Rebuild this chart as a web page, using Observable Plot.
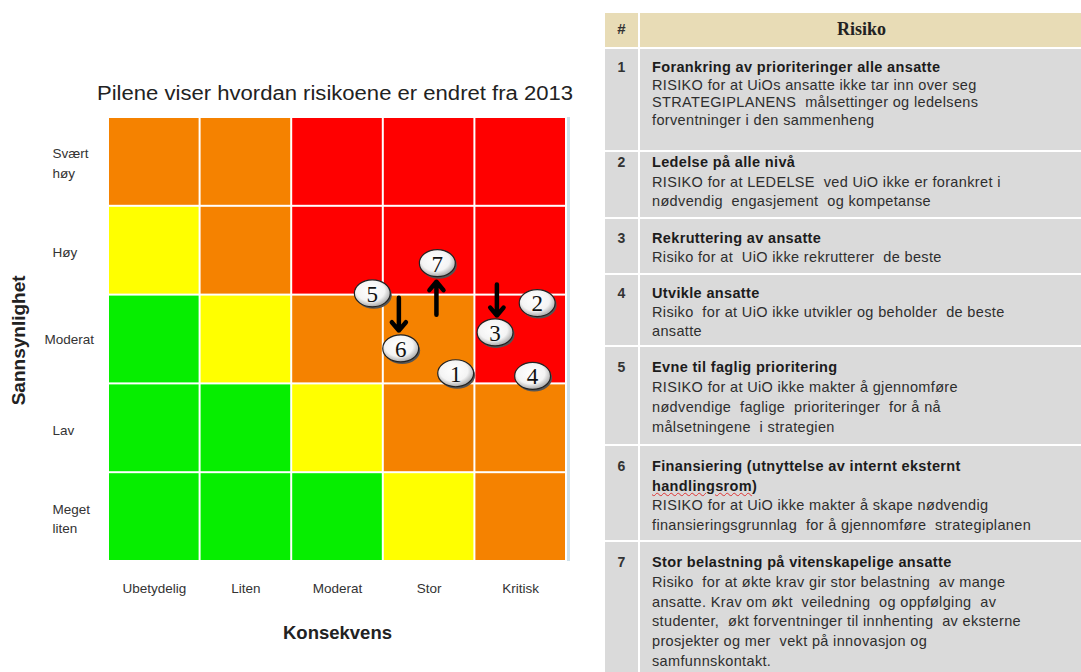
<!DOCTYPE html>
<html>
<head>
<meta charset="utf-8">
<script src="https://cdn.jsdelivr.net/npm/d3@7"></script>
<script src="https://cdn.jsdelivr.net/npm/@observablehq/plot@0.6"></script>
<style>
  html, body { margin: 0; padding: 0; background: #fff; }
  #page { position: relative; width: 1081px; height: 672px; overflow: hidden; font-family: "Liberation Sans", Arial, sans-serif; }
  #chart { position: absolute; left: 0; top: 0; }
  #title { position: absolute; left: 97px; top: 82px; font-size: 20px; color: #222; white-space: nowrap; transform-origin: 0 0; }
  #table { position: absolute; left: 605px; top: 13px; width: 476px; }
  .row { position: absolute; left: 0; width: 476px; background: #dadada; }
  .num { position: absolute; left: 0; width: 35px; top: 0; bottom: 0; border-right: 2px solid #fff; text-align: center; font-weight: bold; font-size: 14px; color: #333; box-sizing: border-box; }
  .txt { position: absolute; left: 47px; right: 0; top: 0; font-size: 14.5px; letter-spacing: 0.35px; color: #2e2e2e; white-space: nowrap; }
  .txt b { color: #1c1c1c; }
  .hdr { background: #e8dcb6; }
  .hdr .risk { position: absolute; left: 37px; right: 0; text-align: center; font-family: "Liberation Serif", serif; font-weight: bold; font-size: 18px; color: #222; top: 6px; }
  .wavy { text-decoration: underline wavy #d33; text-decoration-thickness: 1px; }
</style>
</head>
<body>
<div id="page">
  <div id="chart"></div>
  <div id="title"></div>
  <div id="table"></div>
</div>
<script>
// ---------- data ----------
const consequences = ["Ubetydelig", "Liten", "Moderat", "Stor", "Kritisk"];
const likelihoods = ["Meget\nliten", "Lav", "Moderat", "Høy", "Svært\nhøy"]; // bottom to top
const cellLevels = [
  ["G", "G", "G", "Y", "O"],  // Meget liten
  ["G", "G", "Y", "O", "O"],  // Lav
  ["G", "Y", "O", "O", "R"],  // Moderat
  ["Y", "O", "R", "R", "R"],  // Høy
  ["O", "O", "R", "R", "R"]   // Svært høy
];
const riskIds = [1, 2, 3, 4, 5, 6, 7];
const riskX = [3.79, 4.68, 4.22, 4.63, 2.88, 3.19, 3.59];
const riskY = [2.12, 2.91, 2.58, 2.09, 3.02, 2.40, 3.36];
const arrowX = [3.17, 3.58, 4.24];
const arrowFrom = [2.97, 2.78, 3.12];
const arrowTo = [2.60, 3.15, 2.77];
const titleText = "Pilene viser hvordan risikoene er endret fra 2013";
const xTitle = "Konsekvens";
const yTitle = "Sannsynlighet";
const tableHeader = ["#", "Risiko"];
const riskTitles = [
  " Forankring av prioriteringer alle ansatte",
  "Ledelse på alle nivå",
  "Rekruttering av ansatte",
  "Utvikle ansatte",
  "Evne til faglig prioritering",
  "Finansiering (utnyttelse av internt eksternt\n<u>handlingsrom</u>)",
  "Stor belastning på vitenskapelige ansatte"
];
const riskTexts = [
  "RISIKO for at UiOs ansatte ikke tar inn over seg\nSTRATEGIPLANENS  målsettinger og ledelsens\nforventninger i den sammenheng",
  "RISIKO for at LEDELSE  ved UiO ikke er forankret i\nnødvendig  engasjement  og kompetanse",
  "Risiko for at  UiO ikke rekrutterer  de beste",
  "Risiko  for at UiO ikke utvikler og beholder  de beste\nansatte",
  "RISIKO for at UiO ikke makter å gjennomføre\nnødvendige  faglige  prioriteringer  for å nå\nmålsetningene  i strategien",
  "RISIKO for at UiO ikke makter å skape nødvendig\nfinansieringsgrunnlag  for å gjennomføre  strategiplanen",
  "Risiko  for at økte krav gir stor belastning  av mange\nansatte. Krav om økt  veiledning  og oppfølging  av\nstudenter,  økt forventninger til innhenting  av eksterne\nprosjekter og mer  vekt på innovasjon og\nsamfunnskontakt."
];

// ---------- layout (not data) ----------
const rowLayout = [ // [top, height, padTop, lineHeight]
  [34, 101, 10, 17.5],
  [137, 65, 1, 19.5],
  [204, 54, 10, 19],
  [260, 70, 9, 19],
  [332, 97, 10, 20],
  [431, 94, 11, 19.5],
  [527, 145, 11, 19.8]
];

// ---------- chart ----------
const cells = [];
cellLevels.forEach((row, r) => row.forEach((lvl, c) => cells.push({col: c, row: r, level: lvl})));
const risks = riskIds.map((id, i) => ({id, x: riskX[i], y: riskY[i]}));
const arrows = arrowX.map((x, i) => ({x, y1: arrowFrom[i], y2: arrowTo[i]}));

const k = 0.5523;
const ellipse = {
  draw(ctx, size) {
    const r = Math.sqrt(size / Math.PI);
    const rx = r * 1.33, ry = r;
    ctx.moveTo(rx, 0);
    ctx.bezierCurveTo(rx, k * ry, k * rx, ry, 0, ry);
    ctx.bezierCurveTo(-k * rx, ry, -rx, k * ry, -rx, 0);
    ctx.bezierCurveTo(-rx, -k * ry, -k * rx, -ry, 0, -ry);
    ctx.bezierCurveTo(k * rx, -ry, rx, -k * ry, rx, 0);
    ctx.closePath();
  }
};

const defs = () => {
  const d = d3.create("svg:defs");
  const g = d.append("radialGradient").attr("id", "ellGrad").attr("cx", "45%").attr("cy", "40%").attr("r", "60%");
  g.append("stop").attr("offset", "0%").attr("stop-color", "#ffffff");
  g.append("stop").attr("offset", "65%").attr("stop-color", "#f4f4f4");
  g.append("stop").attr("offset", "100%").attr("stop-color", "#a9a9a9");
  return d.node();
};

const chart = Plot.plot({
  width: 600,
  height: 672,
  marginLeft: 108,
  marginRight: 34,
  marginTop: 117,
  marginBottom: 111,
  x: {domain: [0, 5], axis: null},
  y: {domain: [0, 5], axis: null},
  color: {domain: ["G", "Y", "O", "R"], range: ["#06ee00", "#ffff00", "#f58200", "#ff0000"]},
  style: {fontFamily: "'Liberation Sans', Arial, sans-serif", background: "white", overflow: "visible"},
  marks: [
    defs,
    Plot.ruleX([5], {y1: 0, y2: 5, stroke: "#cfe1ea", strokeWidth: 3, dx: 2}),
    Plot.rect(cells, {x1: d => d.col, x2: d => d.col + 1, y1: d => d.row, y2: d => d.row + 1, fill: "level", inset: 1}),
    Plot.text(consequences, {x: (d, i) => i + 0.5, y: 0, dy: 27, fontSize: 13.5, fill: "#333"}),
    Plot.text(likelihoods, {x: 0, y: (d, i) => i + 0.5, filter: (d, i) => i !== 2, dx: -56, textAnchor: "start", lineHeight: 1.45, fontSize: 13.5, fill: "#333"}),
    Plot.text(likelihoods, {x: 0, y: (d, i) => i + 0.5, filter: (d, i) => i === 2, dx: -64, textAnchor: "start", fontSize: 13.5, fill: "#333"}),
    Plot.text([yTitle], {x: 0, y: 2.49, dx: -90, rotate: -90, fontWeight: "bold", fontSize: 19, fill: "#222"}),
    Plot.text([xTitle], {x: 2.5, y: 0, dy: 72, fontWeight: "bold", fontSize: 18.5, fill: "#222"}),
    Plot.arrow(arrows, {x1: "x", x2: "x", y1: "y1", y2: "y2", stroke: "#000", strokeWidth: 4.5, headLength: 14, headAngle: 80}),
    Plot.dot(risks, {x: "x", y: "y", symbol: ellipse, r: 13.5, fill: "#555", stroke: "none", dx: 1.5, dy: 2}),
    Plot.dot(risks, {x: "x", y: "y", symbol: ellipse, r: 13.5, fill: "url(#ellGrad)", stroke: "#222", strokeWidth: 1.2}),
    Plot.text(risks, {x: "x", y: "y", text: "id", fontFamily: "'Liberation Serif', serif", fontSize: 23, fill: "#111", dy: 1})
  ]
});
document.getElementById("chart").appendChild(chart);
const titleEl = document.getElementById("title");
titleEl.textContent = titleText;
const tw = titleEl.getBoundingClientRect().width;
titleEl.style.transform = `scaleX(${476 / tw})`;

// ---------- table ----------
const tbl = document.getElementById("table");
const hdr = document.createElement("div");
hdr.className = "row hdr";
hdr.style.top = "0px"; hdr.style.height = "34px";
hdr.innerHTML = `<div class="num" style="padding-top:7px;font-size:15px;">${tableHeader[0]}</div><div class="risk">${tableHeader[1]}</div>`;
tbl.appendChild(hdr);
riskIds.forEach((id, i) => {
  const [top, h, pad, lh] = rowLayout[i];
  const row = document.createElement("div");
  row.className = "row";
  row.style.top = (top + 2) + "px";
  row.style.height = h + "px";
  const titleHtml = riskTitles[i].replace("<u>", '<span class="wavy">').replace("</u>", "</span>").split("\n").join("<br>");
  row.innerHTML = `<div class="num" style="padding-top:${pad}px;line-height:${lh}px">${id}</div>` +
    `<div class="txt" style="padding-top:${pad}px;line-height:${lh}px"><b>${titleHtml}</b><br>${riskTexts[i].split("\n").join("<br>").replace(/  /g, " &nbsp;")}</div>`;
  tbl.appendChild(row);
});
</script>
</body>
</html>
